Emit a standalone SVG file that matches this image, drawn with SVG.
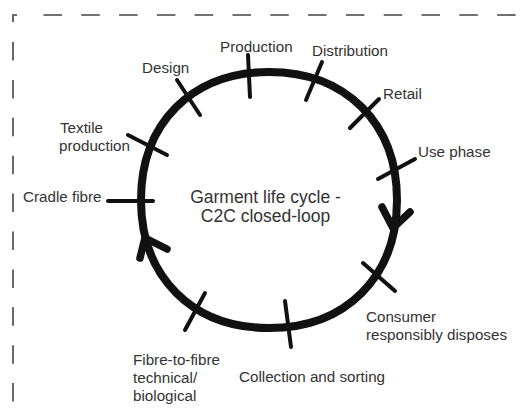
<svg xmlns="http://www.w3.org/2000/svg" width="521" height="408" viewBox="0 0 521 408">
<style>
.frame{fill:none;stroke:#444;stroke-width:1.6}
.loop{fill:none;stroke:#111;stroke-width:8}
.tick{fill:none;stroke:#111;stroke-width:4;stroke-linecap:round}
.head{fill:none;stroke:#111;stroke-width:7.5;stroke-linecap:round;stroke-linejoin:round}
.lbl{font-family:"Liberation Sans",Arial,sans-serif;font-size:15.2px;fill:#333}
.ctr{font-family:"Liberation Sans",Arial,sans-serif;font-size:17.5px;fill:#333;text-anchor:middle}
</style>
<rect width="521" height="408" fill="#fff"/>
<g id="frame">
<path class="frame" d="M13,22 V15 H17"/>
<line class="frame" x1="13" y1="42" x2="13" y2="408" stroke-dasharray="18.5 19.4"/>
<line class="frame" x1="43.5" y1="15" x2="521" y2="15" stroke-dasharray="18.5 19.3"/>
</g>
<g id="connectors">
<path id="loop" class="loop" d="M397,200 C397,276.8 345.8,328 269,328 C192.2,328 141,276.8 141,200 C141,123.2 192.2,72 269,72 C345.8,72 397,123.2 397,200 Z"/>
<polyline class="head" points="382,207 393,228 410,212"/>
<polyline class="head" points="140,258 145,238 167,249"/>
</g>
<g id="center">
<text class="ctr" x="265.5" y="202.5">Garment life cycle -</text>
<text class="ctr" x="265.5" y="222">C2C closed-loop</text>
</g>
<g id="production"><line class="tick" x1="248" y1="55" x2="250" y2="97"/><text class="lbl" x="220" y="52">Production</text></g>
<g id="distribution"><line class="tick" x1="322" y1="62" x2="306" y2="100"/><text class="lbl" x="312" y="56">Distribution</text></g>
<g id="design"><line class="tick" x1="177" y1="80" x2="200" y2="115"/><text class="lbl" x="142" y="72.5">Design</text></g>
<g id="retail"><line class="tick" x1="379" y1="99" x2="350" y2="128"/><text class="lbl" x="383" y="98.5">Retail</text></g>
<g id="textile"><line class="tick" x1="128" y1="135" x2="167" y2="155"/><text class="lbl" x="60" y="133">Textile</text><text class="lbl" x="59" y="150.5">production</text></g>
<g id="use"><line class="tick" x1="378" y1="179" x2="415" y2="159"/><text class="lbl" x="418" y="157">Use phase</text></g>
<g id="cradle"><line class="tick" x1="108" y1="201" x2="153" y2="201"/><text class="lbl" x="23" y="202">Cradle fibre</text></g>
<g id="consumer"><line class="tick" x1="363" y1="263" x2="395" y2="291"/><text class="lbl" x="366" y="322">Consumer</text><text class="lbl" x="366" y="340">responsibly disposes</text></g>
<g id="collection"><line class="tick" x1="285" y1="301" x2="291" y2="347"/><text class="lbl" x="239" y="381.5">Collection and sorting</text></g>
<g id="fibre"><line class="tick" x1="205" y1="293" x2="185" y2="330"/><text class="lbl" x="133" y="364.5">Fibre-to-fibre</text><text class="lbl" x="133" y="383">technical/</text><text class="lbl" x="133" y="401">biological</text></g>
</svg>
